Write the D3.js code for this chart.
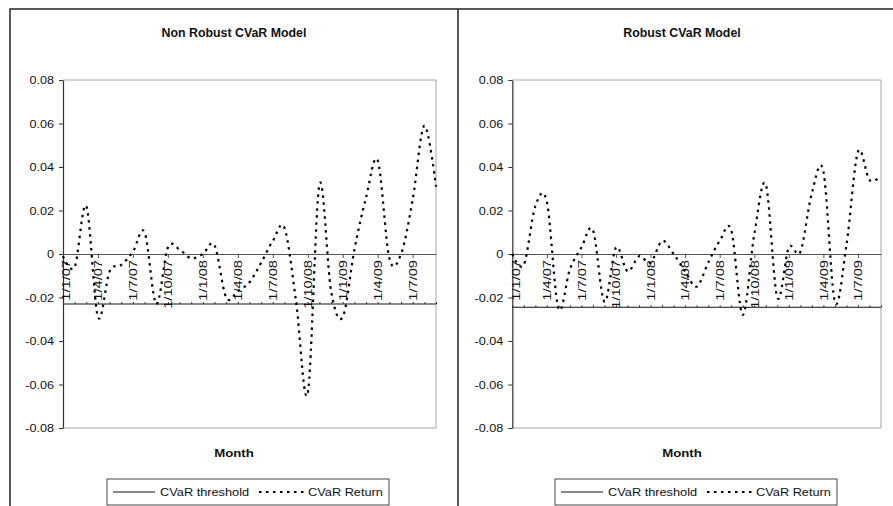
<!DOCTYPE html>
<html>
<head>
<meta charset="utf-8">
<script src="https://cdn.jsdelivr.net/npm/d3@7"></script>
<style>
  html, body { margin: 0; padding: 0; background: #fff; }
  svg { display: block; font-family: Arial, "Liberation Sans", sans-serif; }
</style>
</head>
<body>
<svg id="chart" width="893" height="506"></svg>
<script>
// ---- data ----
const months = [
  "1/1/07","1/2/07","1/3/07","1/4/07","1/5/07","1/6/07","1/7/07","1/8/07","1/9/07","1/10/07","1/11/07","1/12/07",
  "1/1/08","1/2/08","1/3/08","1/4/08","1/5/08","1/6/08","1/7/08","1/8/08","1/9/08","1/10/08","1/11/08","1/12/08",
  "1/1/09","1/2/09","1/3/09","1/4/09","1/5/09","1/6/09","1/7/09","1/8/09","1/9/09"
];
const labelMonths = ["1/1/07","1/4/07","1/7/07","1/10/07","1/1/08","1/4/08","1/7/08","1/10/08","1/1/09","1/4/09","1/7/09"];
const yTicks = [0.08, 0.06, 0.04, 0.02, 0, -0.02, -0.04, -0.06, -0.08];

const nonRobustReturn = [
  -0.001, -0.006, 0.022, -0.029, -0.008, -0.005, 0.001, 0.010, -0.023, 0.003, 0.002, -0.002,
  0.000, 0.004, -0.020, -0.017, -0.013, -0.004, 0.006, 0.012, -0.022, -0.064, 0.032, -0.017,
  -0.029, 0.002, 0.026, 0.043, -0.002, 0.000, 0.025, 0.059, 0.031
];
const robustReturn = [
  0.000, -0.005, 0.022, 0.024, -0.025, -0.007, 0.003, 0.011, -0.022, 0.003, -0.008, -0.001,
  -0.004, 0.006, 0.000, -0.008, -0.015, -0.004, 0.006, 0.011, -0.028, 0.009, 0.032, -0.020,
  0.003, 0.001, 0.028, 0.038, -0.022, 0.004, 0.047, 0.034, 0.036
];
const nonRobustThreshold = -0.023;
const robustThreshold = -0.0245;

const titles = ["Non Robust CVaR Model", "Robust CVaR Model"];
const xTitle = "Month";
const legendLabels = ["CVaR threshold", "CVaR Return"];

// ---- drawing ----
const svg = d3.select("#chart");
const fmt = d3.formatLocale({decimal: ".", thousands: ",", grouping: [3], currency: ["", ""], minus: "-"}).format(".2f");

// outer frame
svg.append("path").attr("d", "M10,506V9H893").attr("fill", "none").attr("stroke", "#222").attr("stroke-width", 1.5);
svg.append("line").attr("x1", 458).attr("x2", 458).attr("y1", 9).attr("y2", 506).attr("stroke", "#222").attr("stroke-width", 1.5);

function stretch(sel, k) {
  sel.each(function() {
    const w = this.getComputedTextLength();
    d3.select(this).attr("textLength", w * k).attr("lengthAdjust", "spacingAndGlyphs");
  });
}

function panel(cfg) {
  const g = svg.append("g");
  const x = d3.scalePoint().domain(months).range([cfg.x0, cfg.x1]).padding(0);
  const y = d3.scaleLinear().domain([-0.08, 0.08]).range([428, 80]);

  // plot area border (grey)
  g.append("path")
    .attr("d", `M${cfg.x0},80H${cfg.x1}V428H${cfg.x0}`)
    .attr("fill", "none").attr("stroke", "#a6a6a6").attr("stroke-width", 1);

  // title
  g.append("text").attr("x", cfg.cx).attr("y", 36.5).attr("text-anchor", "middle")
    .style("font-size", "12px").style("font-weight", "bold").attr("fill", "#111")
    .text(cfg.title).call(stretch, 1.03);

  // y axis
  const ya = g.append("g").attr("transform", `translate(${cfg.x0},0)`)
    .call(d3.axisLeft(y).tickValues(yTicks).tickSize(4).tickSizeOuter(0)
      .tickFormat(d => d === 0 ? "0" : fmt(d)));
  ya.select(".domain").attr("stroke", "#333").attr("stroke-width", 1.2);
  ya.selectAll(".tick line").attr("stroke", "#333");
  ya.selectAll(".tick text").attr("x", -9).style("font-size", "11px").attr("fill", "#111")
    .style("font-family", "Arial, 'Liberation Sans', sans-serif").call(stretch, 1.15);

  // x axis at zero
  const xa = g.append("g").attr("transform", `translate(0,${y(0)})`)
    .call(d3.axisBottom(x).tickValues(labelMonths).tickSize(4).tickSizeOuter(0));
  xa.select(".domain").attr("stroke", "#555").attr("stroke-width", 1);
  xa.selectAll(".tick line").attr("stroke", "#555");
  xa.selectAll(".tick text")
    .attr("transform", "rotate(-90)")
    .attr("x", -6).attr("y", (d, i) => i === 0 ? 3 : 0).attr("dy", "0.35em")
    .style("text-anchor", "end").style("font-size", "11px").attr("fill", "#111")
    .style("font-family", "Arial, 'Liberation Sans', sans-serif")
    .call(stretch, 1.33);

  // threshold series
  const thr = months.map(m => ({m, v: cfg.threshold}));
  const line = d3.line().x(d => x(d.m)).y(d => y(d.v));
  g.append("path").datum(thr).attr("d", line).attr("fill", "none").attr("stroke", "#111").attr("stroke-width", 1.1);
  const ta = g.append("g").attr("transform", `translate(0,${y(cfg.threshold)})`)
    .call(d3.axisTop(x).tickSize(2).tickSizeOuter(0).tickFormat(""));
  ta.select(".domain").remove();
  ta.selectAll(".tick line").attr("stroke", "#333");

  // return series (smoothed, dotted)
  const ret = months.map((m, i) => ({m, v: cfg.values[i]}));
  const smooth = d3.line().x(d => x(d.m)).y(d => y(d.v)).curve(d3.curveCatmullRom.alpha(0));
  g.append("path").datum(ret).attr("d", smooth).attr("fill", "none")
    .attr("stroke", "#000").attr("stroke-width", 2.2).attr("stroke-dasharray", "2.5,4.5");

  // x title
  g.append("text").attr("x", cfg.cx).attr("y", 457).attr("text-anchor", "middle")
    .style("font-size", "11px").style("font-weight", "bold").attr("fill", "#111")
    .text(xTitle).call(stretch, 1.2);

  // legend
  const lg = g.append("g").attr("transform", `translate(${cfg.legX},479)`);
  lg.append("rect").attr("x", 0).attr("y", 0).attr("width", 282).attr("height", 26)
    .attr("fill", "#fff").attr("stroke", "#444").attr("stroke-width", 1);
  lg.append("line").attr("x1", 6).attr("x2", 48).attr("y1", 13).attr("y2", 13).attr("stroke", "#111").attr("stroke-width", 1.1);
  lg.append("text").attr("x", 53).attr("y", 17).style("font-size", "11px").attr("fill", "#111")
    .text(legendLabels[0]).call(stretch, 1.16);
  lg.append("line").attr("x1", 152).attr("x2", 198).attr("y1", 13).attr("y2", 13)
    .attr("stroke", "#000").attr("stroke-width", 2.2).attr("stroke-dasharray", "2.5,4.5");
  lg.append("text").attr("x", 201).attr("y", 17).style("font-size", "11px").attr("fill", "#111")
    .text(legendLabels[1]).call(stretch, 1.16);
}

panel({x0: 63, x1: 436, cx: 234, title: titles[0], values: nonRobustReturn, threshold: nonRobustThreshold, legX: 107});
panel({x0: 512.3, x1: 881, cx: 682, title: titles[1], values: robustReturn, threshold: robustThreshold, legX: 555});
</script>
</body>
</html>
